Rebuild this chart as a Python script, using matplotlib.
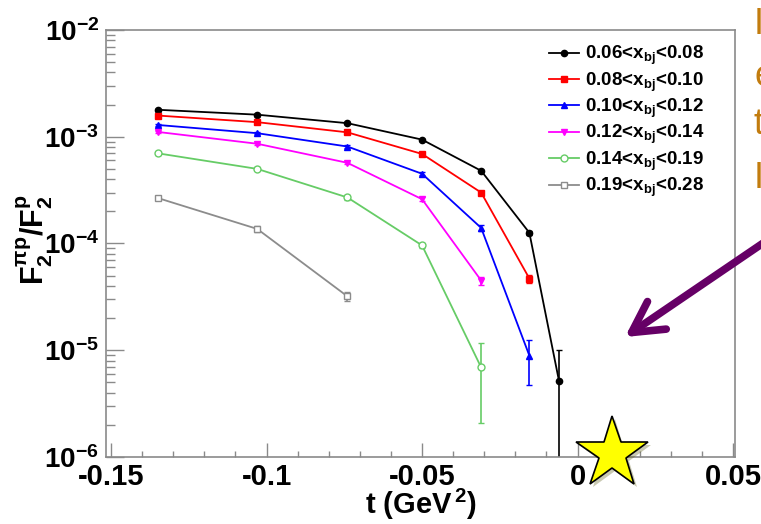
import math

import matplotlib
matplotlib.use("Agg")
import matplotlib.pyplot as plt
import matplotlib.patheffects as pe
from matplotlib.ticker import FixedLocator, FuncFormatter, LogLocator, NullFormatter

# t values (GeV^2) of the bins
t_vals = [-0.135, -0.103, -0.074, -0.050, -0.031, -0.0155, -0.006]

labels = [
    r"0.06<x$_{\mathbf{bj}}$<0.08",
    r"0.08<x$_{\mathbf{bj}}$<0.10",
    r"0.10<x$_{\mathbf{bj}}$<0.12",
    r"0.12<x$_{\mathbf{bj}}$<0.14",
    r"0.14<x$_{\mathbf{bj}}$<0.19",
    r"0.19<x$_{\mathbf{bj}}$<0.28",
]

ratio_a = [1.79e-3, 1.61e-3, 1.34e-3, 9.4e-4, 4.8e-4, 1.26e-4, 5.2e-6]
ratio_b = [1.58e-3, 1.37e-3, 1.10e-3, 6.9e-4, 3.0e-4, 4.7e-5]
ratio_c = [1.29e-3, 1.08e-3, 8.1e-4, 4.5e-4, 1.40e-4, 8.9e-6]
ratio_d = [1.11e-3, 8.6e-4, 5.7e-4, 2.6e-4, 4.5e-5]
ratio_e = [7.0e-4, 5.0e-4, 2.7e-4, 9.6e-5, 6.9e-6]
ratio_f = [2.67e-4, 1.37e-4, 3.2e-5]

err_lo_a = [3e-5, 3e-5, 3e-5, 2e-5, 1.2e-5, 6e-6, 5.1e-6]
err_hi_a = [3e-5, 3e-5, 3e-5, 2e-5, 1.2e-5, 6e-6, 4.8e-6]
err_lo_b = [3e-5, 3e-5, 2.5e-5, 1.6e-5, 1e-5, 4e-6]
err_hi_b = [3e-5, 3e-5, 2.5e-5, 1.6e-5, 1e-5, 4e-6]
err_lo_c = [2.5e-5, 2.5e-5, 2e-5, 1.4e-5, 8e-6, 4.2e-6]
err_hi_c = [2.5e-5, 2.5e-5, 2e-5, 1.4e-5, 8e-6, 3.6e-6]
err_lo_d = [2.5e-5, 2e-5, 1.6e-5, 1e-5, 4e-6]
err_hi_d = [2.5e-5, 2e-5, 1.6e-5, 1e-5, 4e-6]
err_lo_e = [2e-5, 1.6e-5, 1.2e-5, 6e-6, 4.8e-6]
err_hi_e = [2e-5, 1.6e-5, 1.2e-5, 6e-6, 4.9e-6]
err_lo_f = [1.2e-5, 8e-6, 3e-6]
err_hi_f = [1.2e-5, 8e-6, 3e-6]

series = [
    (ratio_a, err_lo_a, err_hi_a, "black", "o", "black", 4.5),
    (ratio_b, err_lo_b, err_hi_b, "#ff0000", "s", "#ff0000", 5),
    (ratio_c, err_lo_c, err_hi_c, "#0000ff", "^", "#0000ff", 4.5),
    (ratio_d, err_lo_d, err_hi_d, "#ff00ff", "v", "#ff00ff", 4.5),
    (ratio_e, err_lo_e, err_hi_e, "#66cc66", "o", "white", 5),
    (ratio_f, err_lo_f, err_hi_f, "#8c8c8c", "s", "white", 5),
]

plt.rcParams["font.family"] = ["Liberation Sans", "DejaVu Sans"]
plt.rcParams["font.weight"] = "bold"
plt.rcParams["mathtext.fontset"] = "custom"
plt.rcParams["mathtext.rm"] = "Liberation Sans:bold"
plt.rcParams["mathtext.bf"] = "Liberation Sans:bold"
plt.rcParams["mathtext.it"] = "Liberation Sans:bold:italic"

W, H = 761, 524
fig = plt.figure(figsize=(W / 100, H / 100), dpi=100)
ax = fig.add_axes([106 / W, (H - 457) / H, (735 - 106) / W, (457 - 30) / H])

for (vals, lo, hi, color, marker, face, ms), label in zip(series, labels):
    ts = t_vals[: len(vals)]
    ax.errorbar(ts, vals, yerr=[lo, hi], fmt="none", ecolor=color,
                elinewidth=1.2, capsize=2, capthick=1.0, zorder=2)
    ax.plot(ts, vals, color=color, lw=1.3, marker=marker, ms=ms,
            mfc=face, mec=color, mew=1.0, label=label, zorder=3)

ax.set_yscale("log")
ax.set_xlim(-0.1516, 0.0506)
ax.set_ylim(1e-6, 1e-2)

x_names = {-0.15: "-0.15", -0.1: "-0.1", -0.05: "-0.05", 0.0: "0", 0.05: "0.05"}
ax.xaxis.set_major_locator(FixedLocator(list(x_names)))
ax.xaxis.set_minor_locator(FixedLocator([x / 100 for x in range(-15, 6)]))
ax.xaxis.set_major_formatter(FuncFormatter(lambda v, p: x_names.get(round(v, 2), "")))
ax.yaxis.set_major_locator(LogLocator(base=10, numticks=10))
ax.yaxis.set_minor_locator(LogLocator(base=10, subs=range(2, 10), numticks=20))
ax.yaxis.set_major_formatter(FuncFormatter(lambda v, p: r"$\mathbf{10^{%d}}$" % round(math.log10(v))))
ax.yaxis.set_minor_formatter(NullFormatter())

grey = "#8a8a8a"
for sp in ax.spines.values():
    sp.set_color(grey)
    sp.set_linewidth(1.2)
ax.tick_params(axis="x", which="major", direction="in", length=10, width=1, color=grey,
               labelsize=21, pad=4, top=False)
ax.tick_params(axis="x", which="minor", direction="in", length=4.5, width=1, color=grey, top=False)
ax.tick_params(axis="y", which="major", direction="in", length=13, width=1, color=grey,
               labelsize=20, pad=5, right=False)
ax.tick_params(axis="y", which="minor", direction="in", length=6.5, width=1, color=grey, right=False)

ax.set_xlabel(r"t (GeV$^{\,\mathbf{2}}$)", fontsize=21, fontweight="bold")
ax.xaxis.set_label_coords(0.5, -0.112)
ax.xaxis.label.set_va("center")
ax.set_ylabel(r"F$_{\mathbf{2}}^{\mathbf{\pi p}}$/F$_{\mathbf{2}}^{\mathbf{p}}$", fontsize=22, fontweight="bold")
ax.yaxis.set_label_coords(-0.113, 0.51)
ax.yaxis.label.set_va("center")

ax.legend(loc="upper left", bbox_to_anchor=(549 / W, (H - 44) / H),
          bbox_transform=fig.transFigure, frameon=False, fontsize=13.5,
          handlelength=1.6, handletextpad=0.3, labelspacing=0.17, borderpad=0,
          borderaxespad=0)

# star marker below the origin
ax.plot([0.0111], [1.07e-6], marker="*", ms=54, mfc="#ffff00", mec="black", mew=1.2,
        clip_on=False, zorder=6,
        path_effects=[pe.SimplePatchShadow(offset=(2, -2), alpha=0.3), pe.Normal()])

# purple arrow
ax.annotate("", xy=(625, H - 337), xycoords="figure pixels",
            xytext=(800, H - 218), textcoords="figure pixels",
            arrowprops=dict(arrowstyle="->,head_length=1.1,head_width=0.6", color="#660066",
                            lw=5.5, mutation_scale=20, shrinkA=0, shrinkB=0),
            annotation_clip=False)

# cut-off slide text on the right
for txt, yy in zip(["I", "e", "t", "I"], [24, 77, 125, 179]):
    fig.text(754 / W, (H - yy) / H, txt, fontsize=26, color="#c27c0e", va="center",
             ha="left", fontweight="normal")

fig.savefig("out.png", dpi=100)
